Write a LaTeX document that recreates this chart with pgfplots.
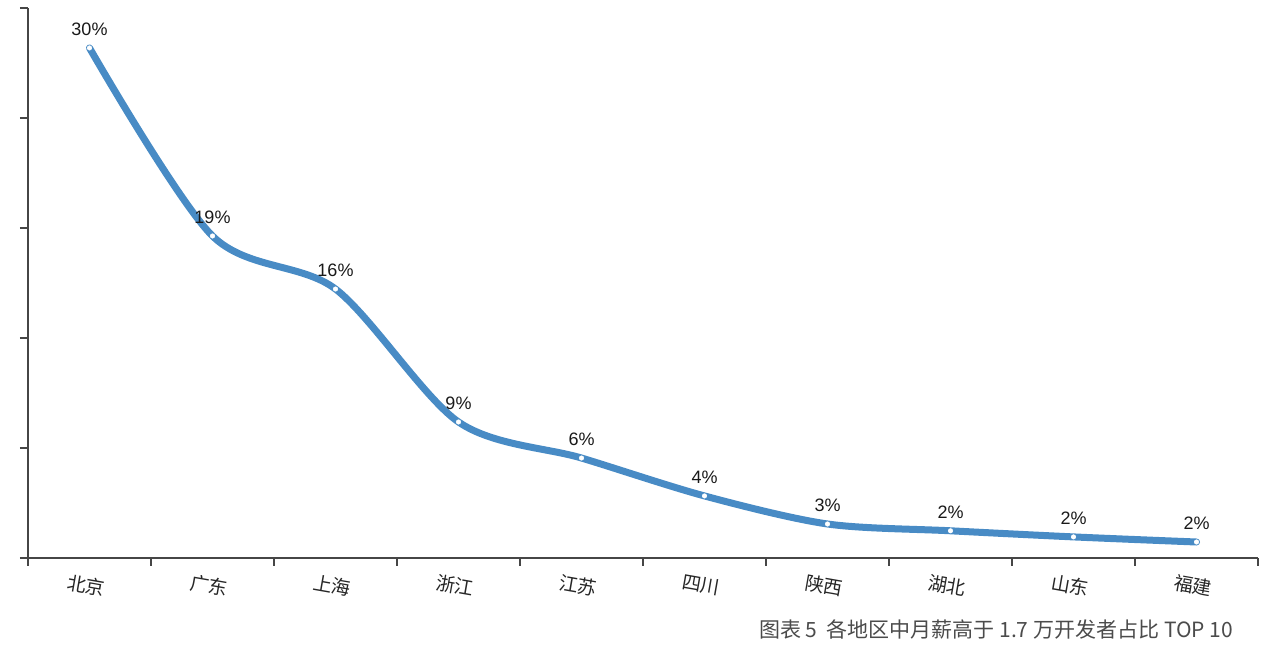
\documentclass[border=0pt]{standalone}
\usepackage{fontspec}
\setmainfont{Liberation Sans}
\newfontfamily\cjk{Noto Sans CJK SC}
\usepackage{pgfplots}
\pgfplotsset{compat=1.18}
\usetikzlibrary{calc}

\definecolor{lineblue}{RGB}{72,139,197}
\definecolor{axisgray}{RGB}{70,70,70}
\definecolor{captiongray}{RGB}{75,75,75}

\begin{document}
\begin{tikzpicture}
\begin{axis}[
  scale only axis,
  width=615pt, height=275pt,
  axis lines*=left,
  axis line style={axisgray, line width=1pt},
  xmin=-0.5, xmax=9.5,
  ymin=0, ymax=32.35,
  xtick={0,...,9},
  xticklabels={北京,广东,上海,浙江,江苏,四川,陕西,湖北,山东,福建},
  xticklabel style={font=\cjk\fontsize{9.5}{10}\selectfont, rotate=-10, anchor=north, yshift=-2pt, text=black!85},
  major x tick style={draw=none},
  minor xtick={-0.5,0.5,...,9.5},
  minor x tick style={axisgray, line width=1pt},
  minor tick length=4pt,
  ytick={0,6.47,12.94,19.41,25.88,32.35},
  yticklabels={},
  major y tick style={axisgray, line width=1pt},
  major tick length=4pt,
  tick align=outside,
  clip=false,
  point meta=explicit symbolic,
  nodes near coords={\pgfplotspointmeta\%},
  every node near coord/.append style={font=\fontsize{9}{10}\selectfont, text=black!90, anchor=south, inner sep=0pt, yshift=6pt},
]
\addplot [smooth, lineblue, line width=3.5pt, line cap=round, mark=*, mark size=1.1pt,
  mark options={solid, fill=white, draw=white, line width=0.3pt}]
table [meta=lab] {
x y lab
0 30.00 30
1 18.94 19
2 15.82 16
3 8.00 9
4 5.88 6
5 3.65 4
6 2.00 3
7 1.60 2
8 1.24 2
9 0.94 2
};
\end{axis}
\node [anchor=base east, text=captiongray, font=\cjk\fontsize{10.5}{12}\selectfont]
  at ($(current axis.south west)+(606pt,-40pt)$)
  {图表 5\ \ 各地区中月薪高于 1.7 万开发者占比 TOP 10};
\pgfresetboundingbox
\path ($(current axis.south west)+(-14pt,-47pt)$) rectangle ($(current axis.north east)+(11pt,4pt)$);
\end{tikzpicture}
\end{document}
